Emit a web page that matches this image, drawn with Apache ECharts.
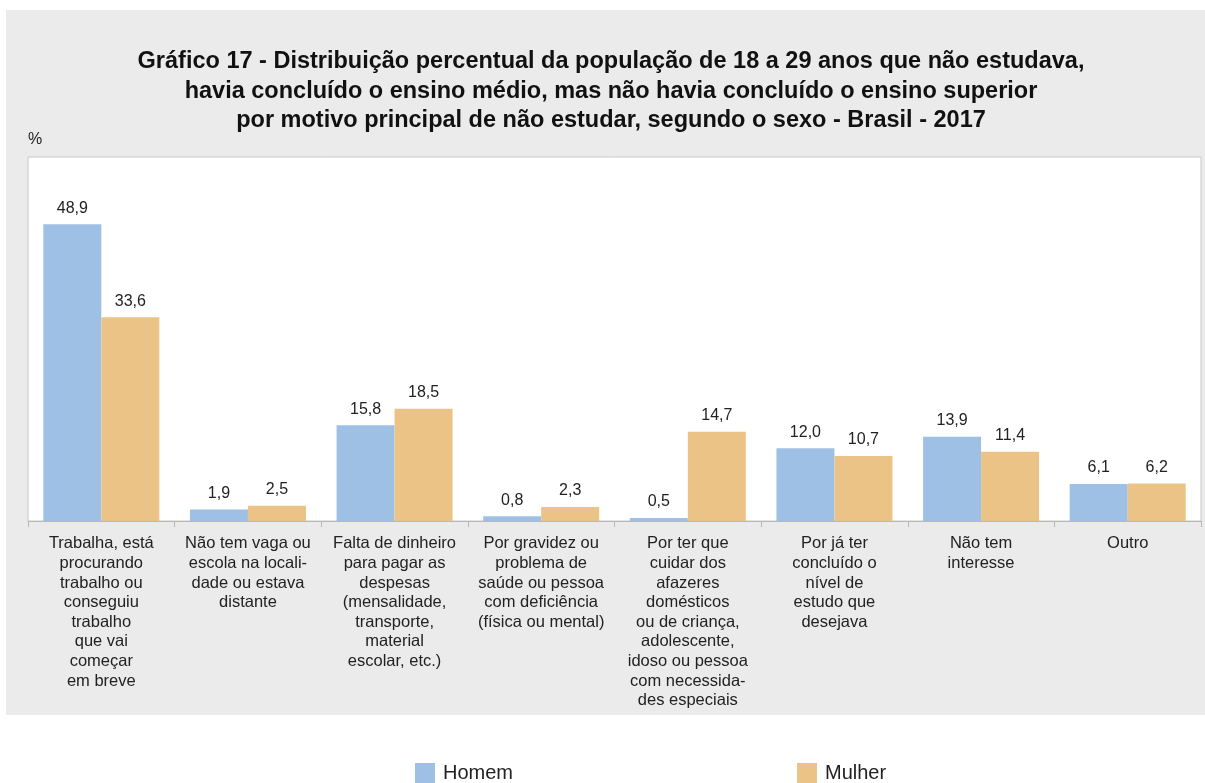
<!DOCTYPE html>
<html>
<head>
<meta charset="utf-8">
<script src="https://cdn.jsdelivr.net/npm/echarts@6/dist/echarts.min.js"></script>
<style>
  html, body { margin: 0; padding: 0; background: #ffffff; }
  #chart { width: 1205px; height: 783px; }
</style>
</head>
<body>
<div id="chart"></div>
<script>
// Reasons for not studying (people aged 18-29), split by sex
const categories = [
  'Trabalha, está\nprocurando\ntrabalho ou\nconseguiu\ntrabalho\nque vai\ncomeçar\nem breve',
  'Não tem vaga ou\nescola na locali-\ndade ou estava\ndistante',
  'Falta de dinheiro\npara pagar as\ndespesas\n(mensalidade,\ntransporte,\nmaterial\nescolar, etc.)',
  'Por gravidez ou\nproblema de\nsaúde ou pessoa\ncom deficiência\n(física ou mental)',
  'Por ter que\ncuidar dos\nafazeres\ndomésticos\nou de criança,\nadolescente,\nidoso ou pessoa\ncom necessida-\ndes especiais',
  'Por já ter\nconcluído o\nnível de\nestudo que\ndesejava',
  'Não tem\ninteresse',
  'Outro'
];
const homem = [48.9, 1.9, 15.8, 0.8, 0.5, 12.0, 13.9, 6.1];
const mulher = [33.6, 2.5, 18.5, 2.3, 14.7, 10.7, 11.4, 6.2];

const titleLines = [
  'Gráfico 17 - Distribuição percentual da população de 18 a 29 anos que não estudava,',
  'havia concluído o ensino médio, mas não havia concluído o ensino superior',
  'por motivo principal de não estudar, segundo o sexo - Brasil - 2017'
];

const FONT = '"Liberation Sans", Arial, sans-serif';
const fmt = p => p.value.toFixed(1).replace('.', ',');

const chart = echarts.init(document.getElementById('chart'), null, { renderer: 'canvas' });
chart.setOption({
  backgroundColor: '#ffffff',
  animation: false,
  textStyle: { fontFamily: FONT },
  graphic: [
    { type: 'rect', z: -10, shape: { x: 6, y: 10, width: 1199, height: 705 }, style: { fill: '#ebebeb' } },
    { type: 'text', left: 28, top: 132, style: { text: '%', font: '16px ' + FONT, fill: '#222' } }
  ],
  title: {
    text: titleLines.join('\n'),
    left: 611,
    textAlign: 'center',
    top: 47,
    padding: 0,
    textStyle: { fontFamily: FONT, fontSize: 23.5, fontWeight: 'bold', color: '#111', lineHeight: 29.5 }
  },
  legend: {
    data: ['Homem', 'Mulher'],
    left: 415,
    top: 763,
    padding: 0,
    itemWidth: 20,
    itemHeight: 20,
    itemGap: 284,
    icon: 'rect',
    textStyle: { fontFamily: FONT, fontSize: 20, color: '#222', padding: [2, 0, 0, 3] }
  },
  grid: {
    left: 28, top: 157, width: 1173, height: 364,
    show: true, backgroundColor: '#ffffff', borderColor: '#c8c8c8', borderWidth: 1
  },
  xAxis: {
    type: 'category',
    data: categories,
    axisLine: { lineStyle: { color: '#b8b8b8', width: 1 } },
    axisTick: { show: true, length: 6, lineStyle: { color: '#b8b8b8' } },
    axisLabel: {
      interval: 0, margin: 13, color: '#222', fontFamily: FONT, fontSize: 16.5, lineHeight: 19.6, align: 'center'
    }
  },
  yAxis: {
    type: 'value', min: 0, max: 60, show: false, splitLine: { show: false }
  },
  series: [
    {
      name: 'Homem', type: 'bar', data: homem, barWidth: 58, barGap: '0%',
      itemStyle: { color: '#9fc0e5' },
      label: { show: true, position: 'top', distance: 8, formatter: fmt, color: '#222', fontFamily: FONT, fontSize: 16 }
    },
    {
      name: 'Mulher', type: 'bar', data: mulher, barWidth: 58, barGap: '0%',
      itemStyle: { color: '#ebc387' },
      label: { show: true, position: 'top', distance: 8, formatter: fmt, color: '#222', fontFamily: FONT, fontSize: 16 }
    }
  ]
});
</script>
</body>
</html>
